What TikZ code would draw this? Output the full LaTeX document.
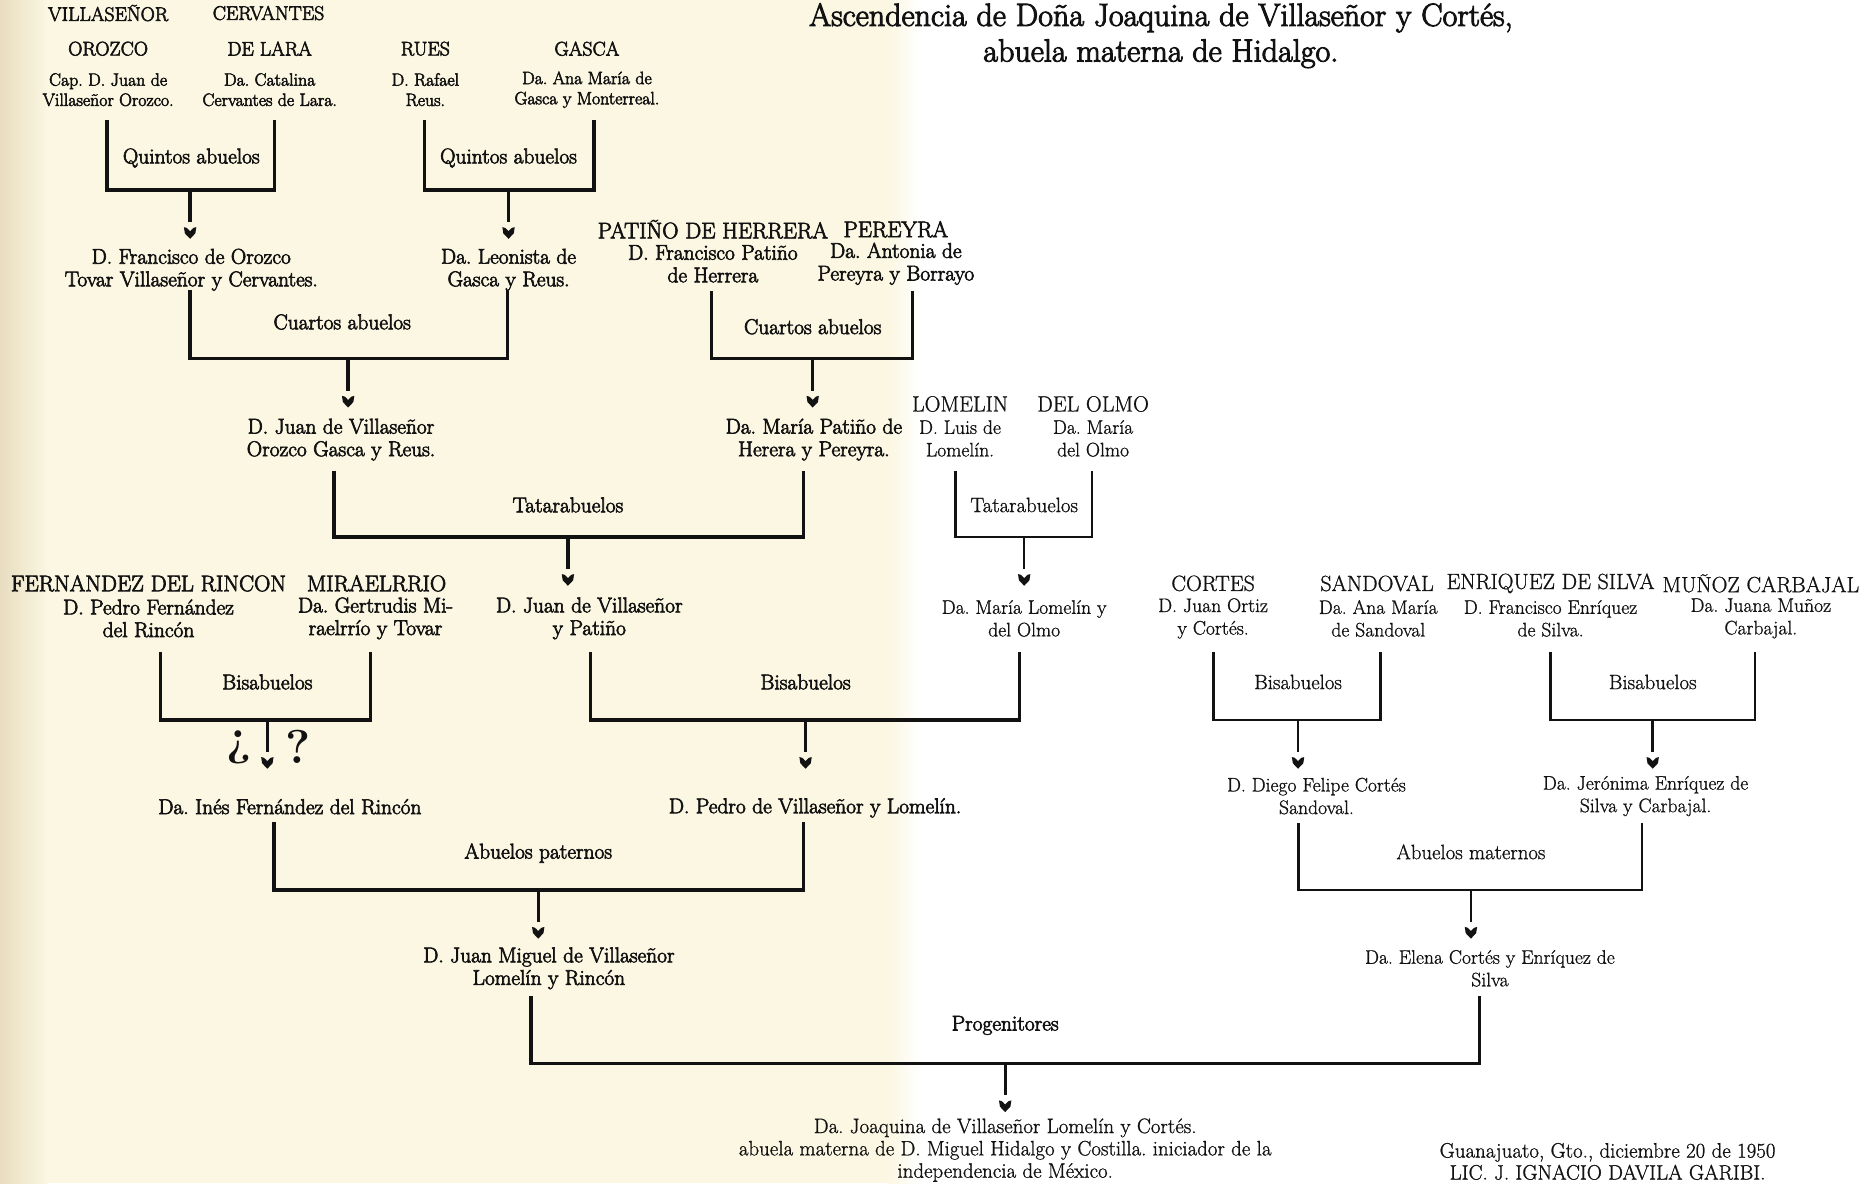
\documentclass[tikz,border=0pt]{standalone}
\usepackage{fontspec}
\setmainfont{Latin Modern Roman}
\newfontfamily\hvfont{Latin Modern Roman}[FakeBold=3]
\newfontfamily\ltfont{Latin Modern Roman}[FakeBold=1]
\usetikzlibrary{calc}
\definecolor{ink}{HTML}{121212}
\definecolor{paper}{HTML}{FBF7E2}
\definecolor{edge}{HTML}{E8DCC0}
\tikzset{
  nm/.style={align=center, inner sep=0pt, text=ink, font=\hvfont\fontsize{18}{19}\selectfont},
  lt/.style={align=center, inner sep=0pt, text=ink, font=\ltfont\fontsize{16.5}{19}\selectfont},
  sm/.style={align=center, inner sep=0pt, text=ink, font=\hvfont\fontsize{15}{17}\selectfont},
  cp/.style={inner sep=0pt, text=ink, font=\hvfont\fontsize{19}{19}\selectfont},
  cpt/.style={inner sep=0pt, text=ink, font=\hvfont\fontsize{16.6}{18}\selectfont},
  cpl/.style={inner sep=0pt, text=ink, font=\ltfont\fontsize{18.5}{19}\selectfont},
  lbl/.style={inner sep=0pt, text=ink, font=\hvfont\fontsize{18}{19}\selectfont},
  lbll/.style={inner sep=0pt, text=ink, font=\ltfont\fontsize{17.5}{19}\selectfont},
  br/.style={draw=ink, line width=2.8pt, line join=miter},
  brl/.style={draw=ink, line width=2.2pt, line join=miter},
  hrt/.pic={\fill[ink] (-5.2,-4.8) .. controls (-3,-4.6) .. (0,-1.4) .. controls (3,-4.6) .. (5.2,-4.8) -- (4.4,0.4) -- (0,5) -- (-4.4,0.4) -- cycle;}
}
% #1 name, #2 xL, #3 xR, #4 ytop, #5 ybottom, #6 xstem, #7 style
\newcommand\famjoin[7]{%
  \coordinate (#1L) at (#2,#4);
  \coordinate (#1R) at (#3,#4);
  \coordinate (#1M) at (#6,#5);
  \coordinate (#1S) at (#6,#5+27);
  \draw[#7] (#1L) |- (#1R |- #1M) -- (#1R);
  \draw[#7] (#1M) -- (#1S);
  \pic at (#6,#5+36) {hrt};
}
\begin{document}
\frenchspacing
\begin{tikzpicture}[x=1pt,y=-1pt]
\useasboundingbox (0,0) rectangle (1568,996);
% paper
\fill[white] (0,0) rectangle (1568,996);
\fill[paper] (0,0) rectangle (748,996);
\shade[left color=edge, right color=paper] (0,0) rectangle (40,996);
\shade[left color=paper, right color=white] (748,0) rectangle (775,996);

% title
\node[align=center, inner sep=0pt, text=ink, font=\hvfont\fontsize{27}{30}\selectfont] (title) at (977,30)
  {Ascendencia de Doña Joaquina de Villaseñor y Cortés,\\abuela materna de Hidalgo.};

% ---- quintos abuelos
\node[cpt] (s1) at (91,11) {VILLASEÑOR};
\node[cpt] (s2) at (226,11) {CERVANTES};
\node[cpt] (s3) at (91,41) {OROZCO};
\node[cpt] (s4) at (227,41) {DE LARA};
\node[cpt] (s5) at (358,41) {RUES};
\node[cpt] (s6) at (494,41) {GASCA};
\node[sm] (p1) at (91,75.5) {Cap. D. Juan de\\Villaseñor Orozco.};
\node[sm] (p2) at (227,75.5) {Da. Catalina\\Cervantes de Lara.};
\node[sm] (p3) at (358,75.5) {D. Rafael\\Reus.};
\node[sm] (p4) at (494,75.5) {Da. Ana María de\\Gasca y Monterreal.};

\famjoin{b1}{90}{231}{101}{160}{160}{br}
\node[lbl] (l1) at (161,133) {Quintos abuelos};
\famjoin{b2}{357}{500}{101}{160}{428}{br}
\node[lbl] (l2) at (428,133) {Quintos abuelos};

% ---- cuartos abuelos
\node[nm] (p5) at (161,227) {D. Francisco de Orozco\\Tovar Villaseñor y Cervantes.};
\node[nm] (p6) at (428,227) {Da. Leonista de\\Gasca y Reus.};
\node[cp] (s7) at (600,193) {PATIÑO DE HERRERA};
\node[cp] (s8) at (754,193) {PEREYRA};
\node[nm] (p7) at (600,222) {D. Francisco Patiño\\de Herrera};
\node[nm] (p8) at (754,222) {Da. Antonia de\\Pereyra y Borrayo};

\famjoin{b3}{160}{427}{244}{302}{293}{br}
\node[lbl] (l3) at (288,271) {Cuartos abuelos};
\famjoin{b4}{599}{768}{245}{302}{684}{br}
\node[lbl] (l4) at (684,275) {Cuartos abuelos};

% ---- tatarabuelos
\node[nm] (p9) at (287,370) {D. Juan de Villaseñor\\Orozco Gasca y Reus.};
\node[nm] (p10) at (685,370) {Da. María Patiño de\\Herera y Pereyra.};
\node[cpl] (s9) at (808,340) {LOMELIN};
\node[cpl] (s10) at (920,340) {DEL OLMO};
\node[lt] (p11) at (808,369) {D. Luis de\\Lomelín.};
\node[lt] (p12) at (920,369) {Da. María\\del Olmo};

\famjoin{b5}{281}{676}{396}{452}{478}{br}
\node[lbl] (l5) at (478,425) {Tatarabuelos};
\famjoin{b6}{804}{919}{396}{452}{862}{brl}
\node[lbll] (l6) at (862,425) {Tatarabuelos};

% ---- bisabuelos
\node[cp] (s11) at (125,491) {FERNANDEZ DEL RINCON};
\node[cp] (s12) at (317,491) {MIRAELRRIO};
\node[nm] (p13) at (125,520.5) {D. Pedro Fernández\\del Rincón};
\node[nm] (p14) at (316,520.5) {Da. Gertrudis Mi-\\raelrrío y Tovar};
\node[nm] (p15) at (496,520.5) {D. Juan de Villaseñor\\y Patiño};
\node[lt] (p16) at (862,520.5) {Da. María Lomelín y\\del Olmo};
\node[cpl] (s13) at (1021,491) {CORTES};
\node[cpl] (s14) at (1159,491) {SANDOVAL};
\node[cpl] (s15) at (1305,491) {ENRIQUEZ DE SILVA};
\node[cpl] (s16) at (1482,491) {MUÑOZ CARBAJAL};
\node[lt] (p17) at (1021,520.5) {D. Juan Ortiz\\y Cortés.};
\node[lt] (p18) at (1160,520.5) {Da. Ana María\\de Sandoval};
\node[lt] (p19) at (1305,520.5) {D. Francisco Enríquez\\de Silva.};
\node[lt] (p20) at (1482,520.5) {Da. Juana Muñoz\\Carbajal.};

\famjoin{b7}{135}{312}{549}{606}{225}{br}
\node[lbl] (l7) at (225,574) {Bisabuelos};
\node[inner sep=0pt, text=ink, font=\fontsize{40}{40}\selectfont\bfseries] (q1) at (201,629) {¿};
\node[inner sep=0pt, text=ink, font=\fontsize{40}{40}\selectfont\bfseries] (q2) at (251,629) {?};
\famjoin{b8}{497}{858}{549}{606}{678}{br}
\node[lbl] (l8) at (678,574) {Bisabuelos};
\famjoin{b9}{1021.5}{1162}{549}{606}{1092.5}{brl}
\node[lbll] (l9) at (1092.5,574) {Bisabuelos};
\famjoin{b10}{1305}{1477}{549}{606}{1391}{brl}
\node[lbll] (l10) at (1391,574) {Bisabuelos};

% ---- abuelos
\node[nm] (p21) at (244,679) {Da. Inés Fernández del Rincón};
\node[nm] (p22) at (686,680) {D. Pedro de Villaseñor y Lomelín.};
\node[lt] (p23) at (1108,670) {D. Diego Felipe Cortés\\Sandoval.};
\node[lt] (p24) at (1385,670) {Da. Jerónima Enríquez de\\Silva y Carbajal.};

\famjoin{b11}{230.5}{676}{692}{749}{453}{br}
\node[lbl] (l11) at (453,718) {Abuelos paternos};
\famjoin{b12}{1093}{1382}{693}{749}{1238}{brl}
\node[lbll] (l12) at (1238,717) {Abuelos maternos};

% ---- progenitores
\node[nm] (p25) at (462,815) {D. Juan Miguel de Villaseñor\\Lomelín y Rincón};
\node[lt] (p26) at (1254,815) {Da. Elena Cortés y Enríquez de\\Silva};

\famjoin{b13}{447}{1245}{838}{895}{846}{br}
\node[lbl] (l13) at (846,863) {Progenitores};

\node[lt, font=\ltfont\fontsize{17.6}{18.8}\selectfont] (p27) at (846,968)
  {Da. Joaquina de Villaseñor Lomelín y Cortés.\\abuela materna de D. Miguel Hidalgo y Costilla. iniciador de la\\independencia de México.};
\node[lt, font=\ltfont\fontsize{17.6}{18.5}\selectfont] (sig) at (1353,977.5)
  {Guanajuato, Gto., diciembre 20 de 1950\\LIC. J. IGNACIO DAVILA GARIBI.};
\end{tikzpicture}
\end{document}
